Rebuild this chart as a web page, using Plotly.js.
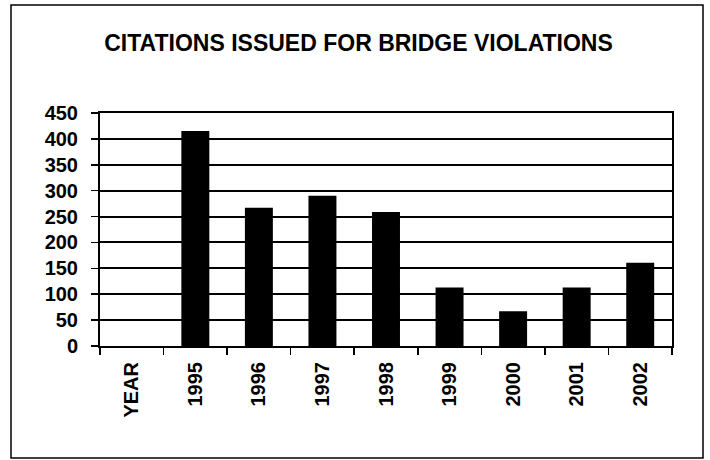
<!DOCTYPE html>
<html>
<head>
<meta charset="utf-8">
<script src="https://cdn.plot.ly/plotly-3.0.1.min.js"></script>
<style>html,body{margin:0;padding:0;background:#fff;}#chart{width:710px;height:460px;}</style>
</head>
<body>
<div id="chart"></div>
<script>
const categories = ["YEAR", "1995", "1996", "1997", "1998", "1999", "2000", "2001", "2002"];
const citations = [null, 415, 267, 290, 259, 113, 67, 113, 161];
const yTickValues = [0, 50, 100, 150, 200, 250, 300, 350, 400, 450];
const chartTitle = "CITATIONS ISSUED FOR BRIDGE VIOLATIONS";

const W = 710, H = 460;
const m = {l: 100, r: 38, t: 113, b: 114};
const pw = W - m.l - m.r, ph = H - m.t - m.b;
function px(x) { return (x - m.l) / pw; }
function py(y) { return (H - m.b - y) / ph; }

const trace = {
  type: "bar",
  x: categories,
  y: citations,
  marker: {color: "#000000", line: {width: 0}},
  hoverinfo: "x+y"
};

const layout = {
  width: W, height: H,
  margin: m,
  paper_bgcolor: "#ffffff",
  plot_bgcolor: "#ffffff",
  showlegend: false,
  bargap: 0.56,
  font: {family: "Arial, 'Liberation Sans', sans-serif", color: "#000000"},
  title: {
    text: chartTitle,
    font: {size: 23, weight: "bold", family: "Arial, 'Liberation Sans', sans-serif", color: "#000"},
    x: 0.505, xanchor: "center", xref: "container",
    y: 1 - 43 / H, yanchor: "middle", yref: "container"
  },
  xaxis: {
    type: "category",
    categoryorder: "array",
    categoryarray: categories,
    tickangle: -90,
    tickson: "boundaries",
    ticks: "outside",
    ticklen: 7,
    tickwidth: 1.5,
    tickcolor: "#000",
    ticklabelstandoff: 6,
    showline: true,
    linecolor: "#000",
    linewidth: 2,
    mirror: true,
    showgrid: false,
    tickfont: {size: 20, weight: "bold", color: "#000"},
    fixedrange: true
  },
  yaxis: {
    range: [0, 450],
    tickvals: yTickValues,
    ticktext: yTickValues.map(String),
    ticks: "outside",
    ticklen: 7,
    tickwidth: 1.5,
    tickcolor: "#000",
    ticklabelstandoff: 9,
    showline: true,
    linecolor: "#000",
    linewidth: 2,
    mirror: true,
    showgrid: true,
    gridcolor: "#000",
    gridwidth: 2,
    zeroline: false,
    tickfont: {size: 20, weight: "bold", color: "#000"},
    fixedrange: true
  },
  shapes: [{
    type: "rect", xref: "paper", yref: "paper",
    x0: px(11), x1: px(703), y0: py(458), y1: py(5),
    line: {color: "#000", width: 1.5},
    fillcolor: "rgba(0,0,0,0)",
    layer: "below"
  }]
};

Plotly.newPlot("chart", [trace], layout, {displayModeBar: false, staticPlot: true});
</script>
</body>
</html>
